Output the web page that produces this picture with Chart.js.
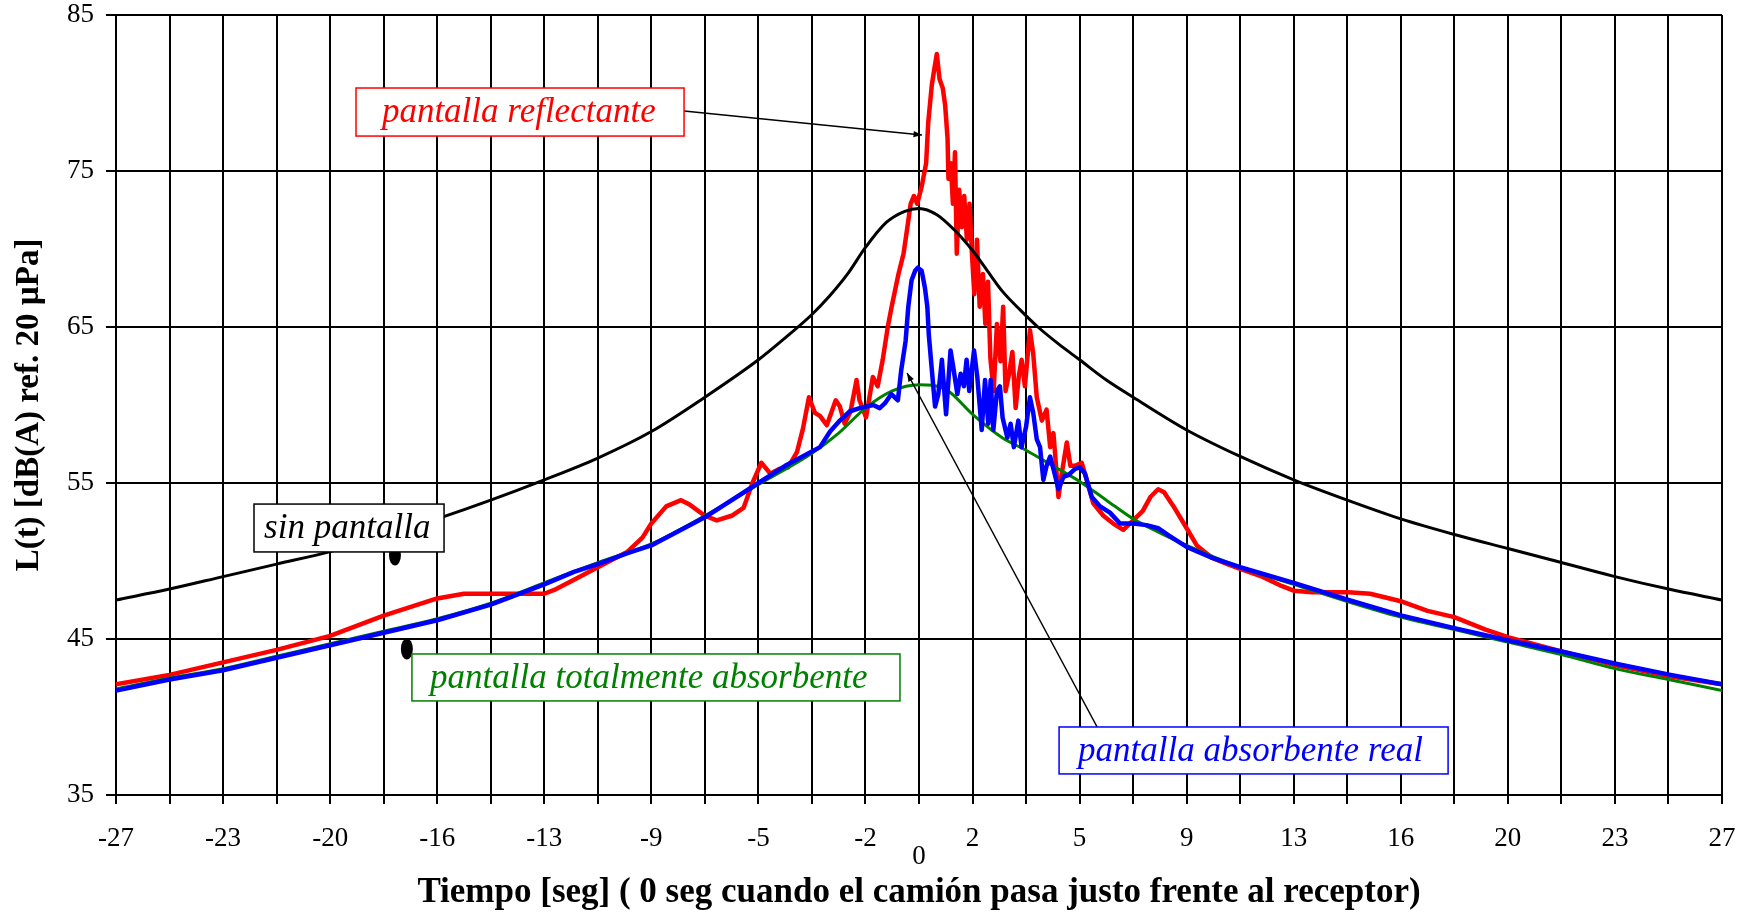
<!DOCTYPE html>
<html>
<head>
<meta charset="utf-8">
<script src="https://cdn.jsdelivr.net/npm/chart.js@4.4.1/dist/chart.umd.min.js"></script>
<style>
  html, body { margin: 0; padding: 0; background: #fff; }
  #wrap { width: 1746px; height: 912px; }
</style>
</head>
<body>
<div id="wrap"><canvas id="chart" width="1746" height="912"></canvas></div>
<script>
// ---- data (time in s, level in dB(A)) ----
const blackTime  = [-27, -25.2, -23.4, -21.6, -19.8, -18, -16.2, -14.4, -12.6, -10.8, -9, -7.2, -5.4, -4.5, -3.6, -3.0, -2.4, -1.8, -1.1, -0.5, 0, 0.6, 1.2, 1.8, 2.3, 2.8, 3.4, 4.0, 4.7, 5.4, 6.3, 7.2, 9, 10.8, 12.6, 14.4, 16.2, 18, 19.8, 21.6, 23.4, 25.2, 27];
const blackLevel = [47.5, 48.2, 49.0, 49.8, 50.6, 51.6, 52.7, 53.9, 55.2, 56.6, 58.3, 60.5, 62.9, 64.3, 65.8, 67.0, 68.4, 70.1, 71.7, 72.4, 72.6, 72.2, 71.2, 69.9, 68.6, 67.3, 66.1, 65.0, 63.9, 62.9, 61.6, 60.5, 58.4, 56.7, 55.2, 53.9, 52.7, 51.7, 50.8, 49.9, 49.0, 48.2, 47.5];

const greenTime  = [-27, -25.2, -23.4, -21.6, -19.8, -18, -16.2, -14.4, -12.6, -10.8, -9, -7.2, -5.4, -3.6, -2.7, -1.8, -0.9, 0, 0.9, 1.8, 2.8, 3.6, 4.5, 5.4, 6.3, 7.2, 8, 9, 10.8, 12.6, 14.4, 16.2, 18, 19.8, 21.6, 23.4, 25.2, 27];
const greenLevel = [41.8, 42.5, 43.1, 43.9, 44.7, 45.5, 46.3, 47.3, 48.6, 49.9, 51.1, 52.9, 54.9, 56.9, 58.2, 59.8, 60.9, 61.3, 61.0, 59.4, 57.9, 57.1, 56.1, 55.1, 53.9, 52.7, 51.9, 51.0, 49.6, 48.5, 47.4, 46.4, 45.6, 44.8, 44.0, 43.1, 42.4, 41.7];

const blueTime  = [-27, -25.2, -23.4, -21.6, -19.8, -18, -16.2, -14.4, -12.6, -11.6, -10.8, -9.8, -9, -7.2, -5.4, -4.5, -3.33, -2.99, -2.66, -2.32, -1.99, -1.54, -1.32, -1.15, -0.93, -0.71, -0.6, -0.45, -0.36, -0.25, -0.13, -0.04, 0.09, 0.2, 0.28, 0.33, 0.42, 0.54, 0.65, 0.77, 0.91, 1.06, 1.17, 1.29, 1.4, 1.51, 1.6, 1.69, 1.85, 1.96, 2.11, 2.22, 2.33, 2.41, 2.5, 2.62, 2.72, 2.81, 2.97, 3.08, 3.19, 3.34, 3.45, 3.6, 3.73, 3.84, 3.96, 4.07, 4.18, 4.29, 4.41, 4.52, 4.69, 4.86, 5.02, 5.25, 5.41, 5.58, 5.81, 6.09, 6.42, 6.76, 7.2, 7.65, 8.04, 8.43, 9, 9.86, 10.8, 12.6, 14.44, 16.24, 18, 19.83, 21.6, 23.47, 25.27, 27];
const blueLevel = [41.7, 42.4, 43.0, 43.8, 44.6, 45.4, 46.2, 47.2, 48.5, 49.3, 49.8, 50.5, 51.0, 52.8, 55.0, 56.1, 57.3, 58.3, 59.0, 59.6, 59.8, 60.0, 59.8, 60.1, 60.7, 60.3, 62.2, 64.1, 66.3, 68.0, 68.6, 68.8, 68.6, 67.5, 66.3, 64.5, 62.5, 59.9, 60.7, 62.9, 59.4, 63.5, 62.2, 60.7, 62.0, 61.2, 62.9, 60.9, 63.5, 61.8, 58.4, 61.6, 58.8, 61.6, 58.4, 60.9, 61.2, 59.2, 57.9, 58.8, 57.3, 59.0, 57.3, 58.6, 60.5, 59.5, 57.8, 57.3, 55.2, 56.1, 56.7, 55.9, 54.6, 55.4, 55.5, 55.9, 56.0, 55.6, 54.1, 53.5, 53.1, 52.4, 52.4, 52.3, 52.1, 51.6, 50.9, 50.2, 49.6, 48.6, 47.5, 46.5, 45.7, 44.9, 44.2, 43.4, 42.7, 42.1];

const redTime  = [-27, -25.2, -23.4, -21.6, -19.8, -18, -16.2, -15.3, -14.4, -13.5, -12.6, -12.2, -11.6, -10.8, -9.8, -9.3, -9, -8.5, -8, -7.7, -7.2, -6.8, -6.3, -5.9, -5.6, -5.3, -5, -4.7, -4.4, -4.1, -3.9, -3.7, -3.5, -3.33, -3.1, -2.8, -2.66, -2.5, -2.3, -2.1, -2, -1.78, -1.55, -1.39, -1.22, -1.05, -0.92, -0.69, -0.52, -0.39, -0.28, -0.17, -0.06, 0.09, 0.24, 0.31, 0.43, 0.52, 0.6, 0.69, 0.8, 0.88, 0.96, 0.99, 1.07, 1.14, 1.21, 1.27, 1.35, 1.44, 1.52, 1.61, 1.7, 1.78, 1.86, 1.95, 2.04, 2.15, 2.23, 2.32, 2.4, 2.51, 2.62, 2.74, 2.83, 2.91, 3.02, 3.14, 3.25, 3.36, 3.45, 3.56, 3.73, 3.84, 3.96, 4.13, 4.29, 4.41, 4.52, 4.69, 4.8, 4.97, 5.09, 5.25, 5.47, 5.64, 5.86, 6.2, 6.53, 6.87, 7.2, 7.52, 7.78, 8.04, 8.24, 8.56, 9, 9.34, 9.86, 10.37, 10.8, 11.54, 12.19, 12.6, 13.22, 14.44, 15.17, 16.24, 17.1, 18, 19.05, 19.83, 21.6, 23.47, 25.27, 27];
const redLevel = [42.1, 42.7, 43.5, 44.3, 45.2, 46.5, 47.6, 47.9, 47.9, 47.9, 47.9, 48.2, 48.8, 49.6, 50.6, 51.5, 52.4, 53.5, 53.9, 53.6, 52.9, 52.6, 52.9, 53.4, 55.0, 56.3, 55.6, 55.9, 56.0, 57.0, 58.5, 60.5, 59.5, 59.3, 58.7, 60.3, 59.9, 58.8, 59.6, 61.6, 60.3, 59.2, 61.8, 61.2, 62.9, 65.0, 66.3, 68.4, 69.7, 71.4, 72.9, 73.4, 72.9, 74.0, 75.5, 78.1, 80.5, 81.6, 82.5, 80.9, 80.3, 79.2, 77.1, 74.5, 75.5, 72.9, 76.2, 69.7, 73.8, 71.4, 73.4, 70.6, 72.9, 69.7, 67.1, 70.6, 66.3, 68.4, 65.2, 67.9, 63.0, 60.9, 65.2, 62.8, 66.3, 60.9, 61.9, 63.4, 59.8, 61.9, 62.9, 61.2, 64.8, 63.3, 60.5, 59.0, 59.7, 57.3, 58.2, 54.1, 55.6, 57.6, 56.1, 56.1, 56.3, 55.2, 53.7, 52.9, 52.4, 52.0, 52.6, 53.2, 54.1, 54.6, 54.4, 53.5, 52.1, 51.0, 50.2, 49.8, 49.5, 49.0, 48.4, 48.1, 48.0, 48.0, 47.9, 47.4, 46.8, 46.4, 45.6, 45.1, 44.2, 43.3, 42.6, 42.1];

// vertical grid every 1.8 s, labels on every other line
const xGridTimes = [-27, -25.2, -23.4, -21.6, -19.8, -18, -16.2, -14.4, -12.6, -10.8, -9, -7.2, -5.4, -3.6, -1.8, 0, 1.8, 3.6, 5.4, 7.2, 9, 10.8, 12.6, 14.4, 16.2, 18, 19.8, 21.6, 23.4, 25.2, 27];
const xTickLabels = ['-27', '', '-23', '', '-20', '', '-16', '', '-13', '', '-9', '', '-5', '', '-2', '', '2', '', '5', '', '9', '', '13', '', '16', '', '20', '', '23', '', '27'];
const zeroLabel = '0';
const yTicks = [35, 45, 55, 65, 75, 85];

// annotation boxes, in data coordinates [t1, L1, t2, L2]
const notes = [
  { text: 'pantalla reflectante', color: '#ff0000', box: [-18.93, 80.32, -7.90, 77.24], textT: -18.06 },
  { text: 'sin pantalla', color: '#000000', box: [-22.36, 53.65, -15.97, 50.58], textT: -22.02 },
  { text: 'pantalla totalmente absorbente', color: '#008000', box: [-17.05, 44.04, -0.64, 41.03], textT: -16.44 },
  { text: 'pantalla absorbente real', color: '#0000ff', box: [4.71, 39.36, 17.79, 36.35], textT: 5.35 }
];
const leaders = [
  { from: [-7.90, 78.85], to: [0.10, 77.31] },
  { from: [5.99, 39.36], to: [-0.40, 62.05] }
];
const dots = [[-17.62, 50.38], [-17.22, 44.36]];

const pts = (ts, ls) => ts.map((t, i) => ({ x: t, y: ls[i] }));

const FONT = "'Liberation Serif', 'Times New Roman', serif";

const notesPlugin = {
  id: 'notes',
  afterDatasetsDraw(chart) {
    const { ctx, scales: { x, y } } = chart;
    ctx.save();
    // leader lines with arrow heads
    leaders.forEach(l => {
      const x1 = x.getPixelForValue(l.from[0]), y1 = y.getPixelForValue(l.from[1]);
      const x2 = x.getPixelForValue(l.to[0]), y2 = y.getPixelForValue(l.to[1]);
      ctx.strokeStyle = '#000'; ctx.lineWidth = 1.5;
      ctx.beginPath(); ctx.moveTo(x1, y1); ctx.lineTo(x2, y2); ctx.stroke();
      const a = Math.atan2(y2 - y1, x2 - x1), s = 9;
      ctx.fillStyle = '#000';
      ctx.beginPath();
      ctx.moveTo(x2, y2);
      ctx.lineTo(x2 - s * Math.cos(a - 0.35), y2 - s * Math.sin(a - 0.35));
      ctx.lineTo(x2 - s * Math.cos(a + 0.35), y2 - s * Math.sin(a + 0.35));
      ctx.closePath(); ctx.fill();
    });
    // oval markers
    dots.forEach(d => {
      ctx.fillStyle = '#000';
      ctx.beginPath();
      ctx.ellipse(x.getPixelForValue(d[0]), y.getPixelForValue(d[1]), 6, 10.5, 0, 0, Math.PI * 2);
      ctx.fill();
    });
    // label boxes
    notes.forEach(n => {
      const bx1 = x.getPixelForValue(n.box[0]), by1 = y.getPixelForValue(n.box[1]);
      const bx2 = x.getPixelForValue(n.box[2]), by2 = y.getPixelForValue(n.box[3]);
      ctx.fillStyle = '#fff';
      ctx.fillRect(bx1, by1, bx2 - bx1, by2 - by1);
      ctx.strokeStyle = n.color; ctx.lineWidth = 1.5;
      ctx.strokeRect(bx1, by1, bx2 - bx1, by2 - by1);
      ctx.fillStyle = n.color;
      ctx.font = 'italic 35px ' + FONT;
      ctx.textAlign = 'left'; ctx.textBaseline = 'middle';
      ctx.fillText(n.text, x.getPixelForValue(n.textT), (by1 + by2) / 2 + 1);
    });
    ctx.restore();
  },
  afterDraw(chart) {
    const { ctx, scales: { x } } = chart;
    ctx.save();
    ctx.fillStyle = '#000';
    ctx.font = '27px ' + FONT;
    ctx.textAlign = 'center'; ctx.textBaseline = 'middle';
    ctx.fillText(zeroLabel, x.getPixelForValue(0), 857);
    ctx.restore();
  }
};

new Chart(document.getElementById('chart'), {
  type: 'line',
  data: {
    datasets: [
      { label: 'pantalla absorbente real', data: pts(blueTime, blueLevel), borderColor: '#0000ff', borderWidth: 4.5, tension: 0 },
      { label: 'pantalla totalmente absorbente', data: pts(greenTime, greenLevel), borderColor: '#008000', borderWidth: 3, tension: 0.4, cubicInterpolationMode: 'monotone' },
      { label: 'sin pantalla', data: pts(blackTime, blackLevel), borderColor: '#000000', borderWidth: 3, tension: 0.4, cubicInterpolationMode: 'monotone' },
      { label: 'pantalla reflectante', data: pts(redTime, redLevel), borderColor: '#ff0000', borderWidth: 4.5, tension: 0 }
    ]
  },
  options: {
    responsive: false,
    devicePixelRatio: 1,
    animation: false,
    layout: { padding: { top: 15, right: 24, left: 0, bottom: 0 } },
    elements: { point: { radius: 0 }, line: { borderJoinStyle: 'round', borderCapStyle: 'round' } },
    plugins: { legend: { display: false }, tooltip: { enabled: false } },
    scales: {
      x: {
        type: 'linear', min: -27, max: 27,
        afterBuildTicks: s => { s.ticks = xGridTimes.map(v => ({ value: v })); },
        afterFit: s => { s.height = 117; s.paddingLeft = 0; s.paddingRight = 0; },
        grid: { color: '#000', lineWidth: 2, tickLength: 9 },
        border: { color: '#000', width: 2 },
        ticks: {
          autoSkip: false, maxRotation: 0, padding: 19, color: '#000',
          font: { family: FONT, size: 27 },
          callback: (v, i) => xTickLabels[i]
        },
        title: {
          display: true, color: '#000',
          text: 'Tiempo [seg] ( 0 seg cuando el camión pasa justo frente al receptor)',
          font: { family: FONT, size: 35, weight: 'bold', lineHeight: 1.1 },
          padding: { top: 0, bottom: 0 }
        }
      },
      y: {
        min: 35, max: 85,
        afterBuildTicks: s => { s.ticks = yTicks.map(v => ({ value: v })); },
        afterFit: s => { s.width = 116; s.paddingTop = 0; s.paddingBottom = 0; },
        grid: { color: '#000', lineWidth: 2, tickLength: 10 },
        border: { color: '#000', width: 2 },
        ticks: { padding: 12, color: '#000', font: { family: FONT, size: 27 } },
        title: {
          display: true, color: '#000',
          text: 'L(t) [dB(A) ref. 20 µPa]',
          font: { family: FONT, size: 33, weight: 'bold' },
          padding: { top: 10, bottom: 0 }
        }
      }
    }
  },
  plugins: [notesPlugin]
});
</script>
</body>
</html>
